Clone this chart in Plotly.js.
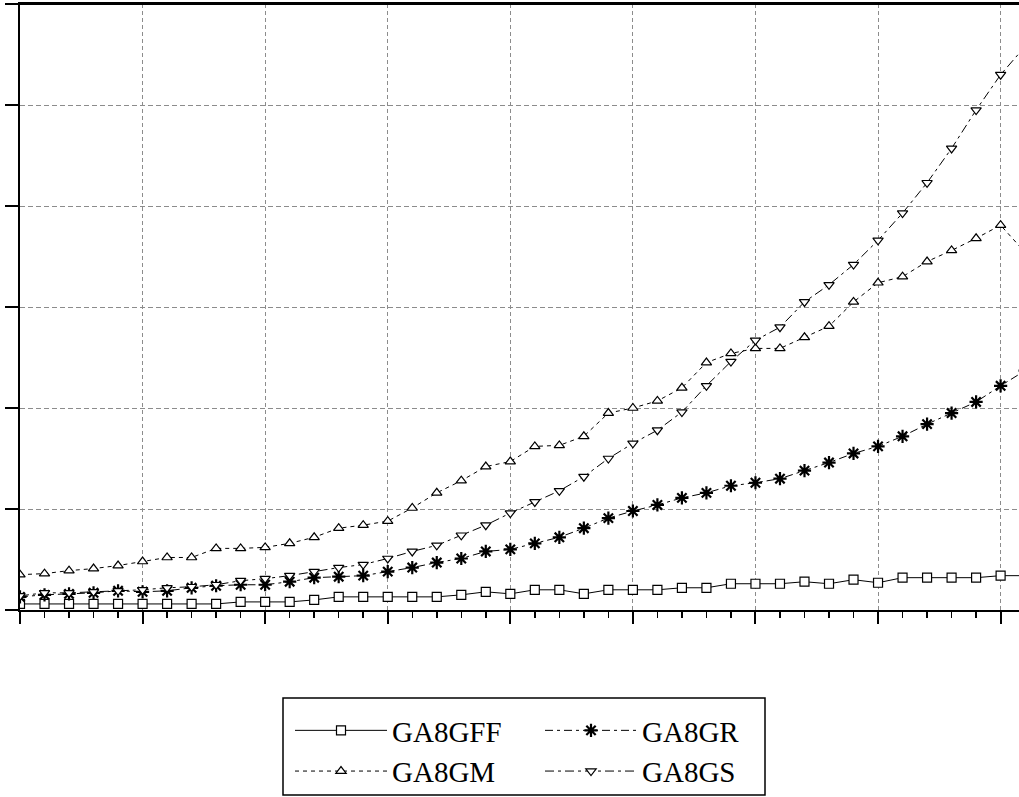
<!DOCTYPE html>
<html>
<head>
<meta charset="utf-8">
<script src="https://cdn.plot.ly/plotly-3.0.1.min.js"></script>
<style>
  html, body { margin: 0; padding: 0; background: #fff; overflow: hidden; }
  #chart { width: 1019px; height: 797px; }
</style>
</head>
<body>
<div id="chart"></div>
<script>
// Sample index along the horizontal axis (one point per minor tick)
const steps = Array.from({length: 42}, (_, i) => i);

// Series values
const ga8gff = [6, 6, 6, 6, 6, 6, 6, 6, 6, 8, 8, 8, 10, 13, 13, 13, 13, 13, 15, 18, 16, 20, 20, 16, 20, 20, 20, 22, 22, 26, 26, 26, 28, 26, 30, 27, 32, 32, 32, 32, 34, 34];
const ga8gm  = [35, 36, 39, 41, 44, 48, 52, 52, 61, 61, 62, 66, 72, 81, 84, 88, 101, 116, 128, 142, 147, 162, 163, 172, 195, 200, 207, 220, 245, 254, 259, 259, 270, 281, 305, 324, 330, 345, 356, 368, 381, 354];
const ga8gr  = [13, 15, 16, 17, 19, 18, 19, 22, 24, 25, 25, 28, 32, 33, 34, 38, 42, 47, 51, 58, 60, 66, 72, 81, 91, 98, 104, 111, 116, 123, 126, 130, 138, 146, 155, 162, 172, 184, 195, 206, 222, 237];
const ga8gs  = [14, 17, 17, 18, 19, 20, 22, 23, 25, 29, 31, 34, 38, 42, 45, 51, 58, 64, 74, 84, 96, 107, 118, 132, 150, 165, 178, 196, 222, 246, 267, 280, 305, 322, 342, 366, 393, 423, 457, 495, 530, 558];

const seriesNames = ['GA8GFF', 'GA8GM', 'GA8GR', 'GA8GS'];

const ink = '#000000';
const font = {family: 'Liberation Serif, DejaVu Serif, serif', size: 29, color: ink};

function series(name, values, dash, symbol, size, legendId) {
  const isStar = symbol.indexOf('asterisk') === 0;
  return {
    type: 'scatter',
    mode: 'lines+markers',
    name: name,
    x: steps,
    y: values,
    legend: legendId,
    line: {color: ink, width: 1, dash: dash},
    marker: {
      symbol: symbol,
      size: size,
      color: isStar ? ink : '#ffffff',
      line: {color: ink, width: isStar ? 2.2 : 1.2}
    }
  };
}

const traces = [
  series(seriesNames[0], ga8gff, 'solid', 'square', 9, 'legend'),
  series(seriesNames[1], ga8gm, '4px,4px', 'triangle-up', 9, 'legend'),
  series(seriesNames[2], ga8gr, '8px,4px,3px,4px', 'asterisk-open', 11, 'legend2'),
  series(seriesNames[3], ga8gs, '9px,4px,3px,4px', 'triangle-down', 9, 'legend2')
];

const plotLeft = 20, plotTop = 4, plotBottom = 610, figW = 1019, figH = 797;
const plotW = figW - plotLeft, plotH = plotBottom - plotTop;
const px2x = px => (px - plotLeft) / plotW;
const px2y = py => (plotBottom - py) / plotH;

const legendCommon = {
  orientation: 'v',
  bgcolor: 'rgba(0,0,0,0)',
  borderwidth: 0,
  font: font,
  itemwidth: 92,
  tracegroupgap: 0,
  xanchor: 'left',
  yanchor: 'top',
  y: px2y(705)
};

const layout = {
  width: figW,
  height: figH,
  margin: {l: plotLeft, r: 0, t: plotTop, b: figH - plotBottom},
  paper_bgcolor: '#ffffff',
  plot_bgcolor: '#ffffff',
  showlegend: true,
  xaxis: {
    range: [0, 40.75],
    dtick: 5,
    tick0: 0,
    showticklabels: false,
    ticks: 'outside',
    ticklen: 12,
    tickwidth: 2,
    tickcolor: ink,
    minor: {dtick: 1, ticks: 'outside', ticklen: 6, tickwidth: 1.5, tickcolor: ink, showgrid: false},
    showgrid: true,
    gridcolor: '#8c8c8c',
    gridwidth: 1,
    griddash: '4px,3px',
    showline: true,
    linecolor: ink,
    linewidth: 2,
    mirror: true,
    zeroline: false,
    fixedrange: true
  },
  yaxis: {
    range: [0, 600],
    dtick: 100,
    tick0: 0,
    showticklabels: false,
    ticks: 'outside',
    ticklen: 13,
    tickwidth: 2,
    tickcolor: ink,
    showgrid: true,
    gridcolor: '#8c8c8c',
    gridwidth: 1,
    griddash: '5px,3px',
    showline: true,
    linecolor: ink,
    linewidth: 2,
    zeroline: false,
    fixedrange: true
  },
  legend: Object.assign({}, legendCommon, {x: px2x(290), traceorder: 'normal'}),
  legend2: Object.assign({}, legendCommon, {x: px2x(540), traceorder: 'normal'}),
  shapes: [
    // frame line along the top of the plot area
    {
      type: 'line',
      xref: 'paper', yref: 'paper',
      x0: 0, x1: 1, y0: 1, y1: 1,
      line: {color: ink, width: 2}
    },
    // box around the two legend columns
    {
      type: 'rect',
      xref: 'paper', yref: 'paper',
      x0: px2x(283), x1: px2x(765),
      y0: px2y(795), y1: px2y(698),
      line: {color: ink, width: 1.5},
      fillcolor: 'rgba(0,0,0,0)'
    }
  ]
};

Plotly.newPlot('chart', traces, layout, {displayModeBar: false, staticPlot: true});
</script>
</body>
</html>
